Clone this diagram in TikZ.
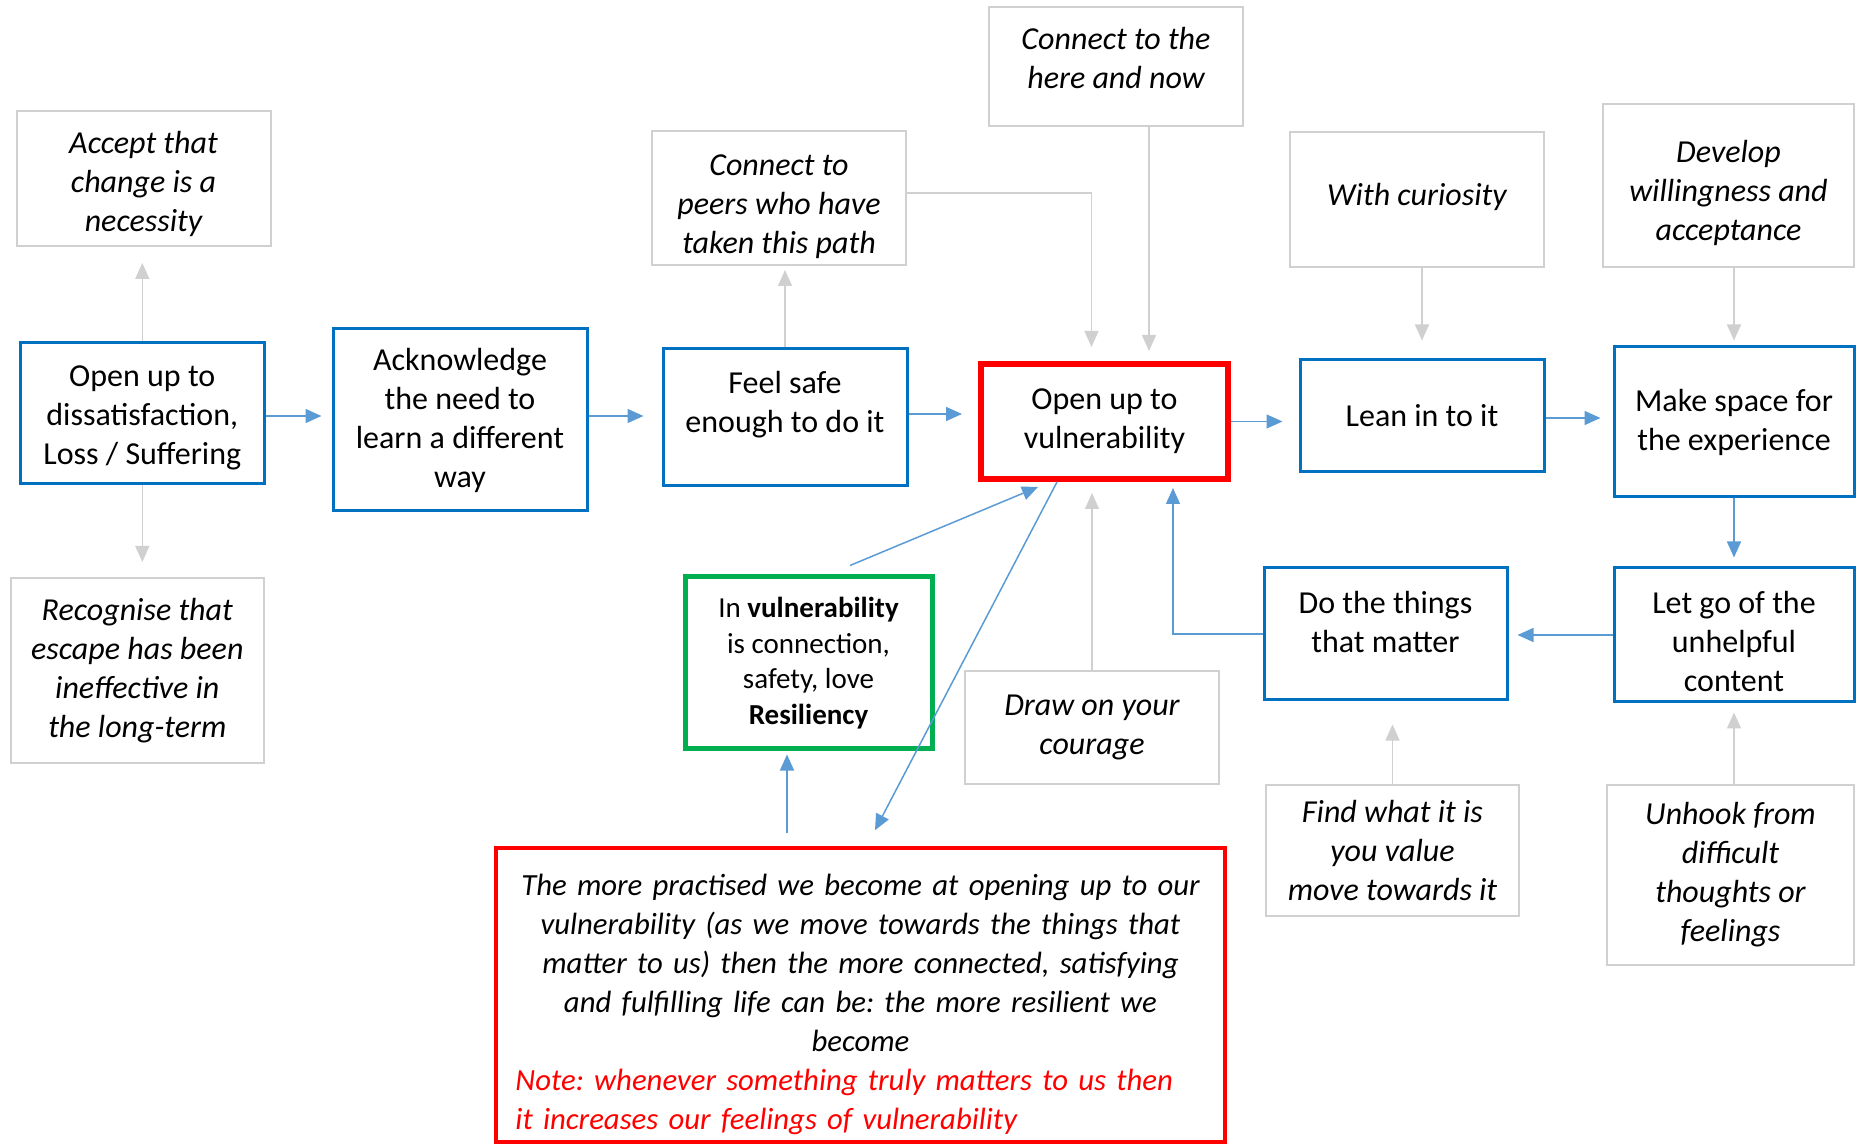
\documentclass[tikz,border=0pt]{standalone}
\usepackage{fontspec}
\setmainfont{Carlito}
\usetikzlibrary{arrows.meta,calc}
\definecolor{bbox}{HTML}{0070C0}
\definecolor{barr}{HTML}{5B9BD5}
\definecolor{gline}{HTML}{D0D0D0}
\definecolor{rbox}{HTML}{FF0000}
\definecolor{gbox}{HTML}{00B050}
\begin{document}
\begin{tikzpicture}[x=0.4pt,y=-0.4pt,
  sz/.style 2 args={minimum width=#1*0.4pt,minimum height=#2*0.4pt},
  main/.style={draw=bbox,line width=1.2pt,align=center,inner sep=0pt,font=\fontsize{12.8pt}{15.6pt}\selectfont},
  side/.style={draw=gline,line width=0.8pt,align=center,inner sep=0pt,font=\fontsize{12.8pt}{15.6pt}\selectfont\itshape},
  barrow/.style={draw=barr,line width=0.6pt,-{Triangle[length=6.4pt,width=5.6pt]}},
  garrow/.style={draw=gline,line width=0.6pt,-{Triangle[length=6.4pt,width=5.6pt]}}
]
\useasboundingbox (0,0) rectangle (1856,1145);

% main chain
\node[main,sz={243.4}{141}] (dis) at (142.3,413.5) {\mbox{}\\[-3.4pt]Open up to\\dissatisfaction,\\Loss / Suffering};
\node[main,sz={254}{182}] (ack) at (460,420) {Acknowledge\\the need to\\learn a different\\way};
\node[main,sz={244}{137}] (feel) at (785,417.5) {Feel safe\\enough to do it\\[-3.2pt]\mbox{}};
\node[main,draw=rbox,line width=2.4pt,sz={247}{115}] (vuln) at (1104.5,421.5) {Open up to\\vulnerability};
\node[main,sz={244}{112}] (lean) at (1422,416) {Lean in to it};
\node[main,sz={240}{150}] (make) at (1734,422) {Make space for\\the experience};
\node[main,sz={240}{134}] (letgo) at (1734,635) {\mbox{}\\[-1.5pt]Let go of the\\unhelpful\\content};
\node[main,sz={243}{132}] (dothings) at (1385.5,634) {Do the things\\that matter\\[-6pt]\mbox{}};
\node[main,draw=gbox,line width=2pt,sz={247}{172},font=\fontsize{11.6pt}{14.2pt}\selectfont] (green) at (808.5,663) {In \textbf{vulnerability}\\is connection,\\safety, love\\\textbf{Resiliency}};

% side boxes
\node[side,sz={254}{135}] (accept) at (143.5,178.5) {\mbox{}\\[-2.4pt]Accept that\\change is a\\necessity};
\node[side,sz={253}{185}] (recog) at (137.3,670.5) {Recognise that\\escape has been\\ineffective in\\the long-term};
\node[side,sz={254}{134}] (peers) at (779,198) {\mbox{}\\[-0.5pt]Connect to\\peers who have\\taken this path};
\node[side,sz={254}{119}] (here) at (1116,66.5) {Connect to the\\here and now\\[-9pt]\mbox{}};
\node[side,sz={254}{135}] (curio) at (1417,199.5) {With curiosity\\[-11.8pt]\mbox{}};
\node[side,sz={251}{163}] (develop) at (1728.5,185.5) {\mbox{}\\[-0.5pt]Develop\\willingness and\\acceptance};
\node[side,sz={254}{113}] (courage) at (1092,727.5) {Draw on your\\courage};
\node[side,sz={253}{131}] (find) at (1392.5,850.5) {Find what it is\\you value\\move towards it};
\node[side,sz={247}{180}] (unhook) at (1730.5,875) {Unhook from\\difficult\\thoughts or\\feelings};

% big summary box
\node[draw=rbox,line width=1.4pt,sz={729}{294},inner sep=0pt,text width=276pt,
      font=\fontsize{12.3pt}{15.6pt}\selectfont\itshape] (big) at (860.5,995)
  {\setlength\parindent{0pt}\frenchspacing\centering\rule{0pt}{15.9pt}The more practised we become at opening up to our\\vulnerability (as we move towards the things that\\matter to us) then the more connected, satisfying\\and fulfilling life can be: the more resilient we\\become\par
   \raggedright\color{rbox}Note: whenever something truly matters to us then\\it increases our feelings of vulnerability\par};

% blue connectors
\draw[barrow,shorten >=4pt] ($(dis.east)+(0,2.5)$) -- ($(dis.east -| ack.west)+(0,2.5)$);
\draw[barrow,shorten >=7.2pt] ($(ack.east)+(0,-4)$) -- ($(ack.east -| feel.west)+(0,-4)$);
\draw[barrow,shorten >=6.4pt] ($(feel.east)+(0,-3.5)$) -- ($(feel.east -| vuln.west)+(0,-3.5)$);
\draw[barrow,shorten >=6.4pt] (vuln.east) -- (vuln.east -| lean.west);
\draw[barrow,shorten >=4.8pt] ($(lean.east)+(0,2)$) -- ($(lean.east -| make.west)+(0,2)$);
\draw[barrow,shorten >=3.6pt] (make.south) -- (letgo.north);
\draw[barrow,shorten >=3.6pt] (letgo.west) -- (letgo.west -| dothings.east);
\coordinate (vs1) at ($(vuln.south)+(68.5,0)$);
\draw[barrow,shorten >=2.4pt] (dothings.west) -| (vs1);
\draw[barrow] ($(green.north)+(41.5,-9)$) -- ($(vuln.south)+(-66.5,5)$);
\draw[barrow] ($(vuln.south)+(-47.5,0)$) -- ($(big.north)+(14.5,-16)$);
\draw[barrow] ($(big.north)+(-73.5,-13)$) -- ($(green.south)+(-21.5,3)$);

% grey connectors
\draw[garrow,shorten >=6.4pt] (dis.north) -- (dis.north |- accept.south);
\draw[garrow,shorten >=6pt] (dis.south) -- (dis.south |- recog.north);
\draw[garrow,shorten >=1.6pt] (feel.north) -- (feel.north |- peers.south);
\coordinate (vn1) at ($(vuln.north)+(-13,0)$);
\draw[garrow,shorten >=5.6pt] ($(peers.east)+(0,-5)$) -| (vn1);
\coordinate (vn2) at ($(vuln.north)+(44.5,0)$);
\draw[garrow,shorten >=4pt] (vn2 |- here.south) -- (vn2);
\draw[garrow,shorten >=7.2pt] (lean.north |- curio.south) -- (lean.north);
\draw[garrow,shorten >=2pt] (make.north |- develop.south) -- (make.north);
\draw[garrow,shorten >=4.4pt] (courage.north) -- (courage.north |- vuln.south);
\draw[garrow,shorten >=9.2pt] (find.north) -- (find.north |- dothings.south);
\draw[garrow,shorten >=3.6pt] (letgo.south |- unhook.north) -- (letgo.south);
\end{tikzpicture}
\end{document}
